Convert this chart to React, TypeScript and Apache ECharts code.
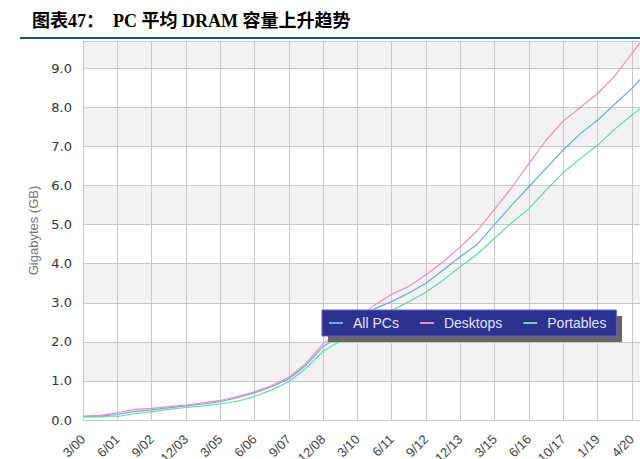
import React, { useEffect, useRef } from "react";
import * as echarts from "echarts";

const tickLabels = ["3/00", "6/01", "9/02", "12/03", "3/05", "6/06", "9/07", "12/08", "3/10", "6/11", "9/12", "12/13", "3/15", "6/16", "10/17", "1/19", "4/20"];
const samplePos = [0, 0.5, 1, 1.5, 2, 2.5, 3, 3.5, 4, 4.5, 5, 5.5, 6, 6.5, 7, 7.5, 8, 8.5, 9, 9.5, 10, 10.5, 11, 11.5, 12, 12.5, 13, 13.5, 14, 14.5, 15, 15.5, 16, 16.24];
const allPCs = [0.09, 0.1, 0.14, 0.22, 0.26, 0.31, 0.36, 0.41, 0.47, 0.57, 0.69, 0.85, 1.05, 1.4, 1.88, 2.15, 2.5, 2.85, 3.03, 3.25, 3.5, 3.84, 4.18, 4.5, 5.0, 5.5, 5.97, 6.44, 6.91, 7.33, 7.67, 8.08, 8.48, 8.72];
const desktops = [0.1, 0.12, 0.18, 0.27, 0.3, 0.34, 0.38, 0.44, 0.5, 0.6, 0.72, 0.88, 1.09, 1.45, 1.95, 2.25, 2.6, 2.94, 3.22, 3.42, 3.72, 4.05, 4.43, 4.85, 5.4, 5.95, 6.56, 7.16, 7.65, 8.0, 8.35, 8.8, 9.38, 9.65];
const portables = [0.08, 0.08, 0.09, 0.16, 0.21, 0.27, 0.32, 0.36, 0.41, 0.48, 0.6, 0.77, 0.98, 1.32, 1.76, 2.02, 2.3, 2.6, 2.8, 3.03, 3.27, 3.58, 3.92, 4.25, 4.65, 5.05, 5.41, 5.88, 6.33, 6.69, 7.03, 7.44, 7.8, 7.97];

const seriesNames = ["All PCs", "Desktops", "Portables"];
const seriesColors = ["#6aa7ec", "#f28bb5", "#62dca0"];

export default function App() {
  const ref = useRef<HTMLDivElement>(null);
  useEffect(() => {
    document.body.style.margin = "0";
    const chart = echarts.init(ref.current!, null, { renderer: "svg" });
    const pair = (vals: number[]) => vals.map((v, i) => [samplePos[i], v]);
    const datasets = [allPCs, desktops, portables];
    chart.setOption({
      animation: false,
      grid: { left: 83, right: 0, top: 41, bottom: 39, containLabel: false, outerBoundsMode: "none" },
      xAxis: {
        type: "value",
        min: 0,
        max: 16.24,
        interval: 1,
        axisLine: { show: true, lineStyle: { color: "#c8c8c8" } },
        axisTick: { show: false },
        splitLine: { show: true, lineStyle: { color: "#c8c8c8", width: 1 } },
        axisLabel: {
          rotate: 45,
          margin: 17,
          color: "#444",
          fontSize: 13,
          fontFamily: "'Liberation Sans', Arial, sans-serif",
          showMaxLabel: false,
          formatter: (v: number) => (Number.isInteger(v) && tickLabels[v] ? tickLabels[v] : ""),
        },
      },
      yAxis: {
        type: "value",
        min: 0,
        max: 9.7,
        interval: 1,
        name: "Gigabytes (GB)",
        nameLocation: "middle",
        nameGap: 33,
        nameTextStyle: { color: "#777", fontSize: 13, fontFamily: "'Liberation Sans', Arial, sans-serif" },
        axisLine: { show: false },
        axisTick: { show: false },
        splitLine: { show: true, lineStyle: { color: "#c8c8c8", width: 1 } },
        splitArea: { show: true, areaStyle: { color: ["#ffffff", "#f2f2f2"] } },
        axisLabel: {
          margin: 11,
          color: "#333",
          fontSize: 13,
          fontFamily: "'DejaVu Sans', Verdana, sans-serif",
          showMaxLabel: false,
          formatter: (v: number) => v.toFixed(1),
        },
      },
      legend: {
        left: 322,
        top: 310,
        z: 10,
        data: seriesNames,
        icon: "rect",
        itemWidth: 14,
        itemHeight: 2,
        itemGap: 21,
        padding: [6, 10, 6, 7],
        backgroundColor: "#2d3190",
        borderColor: "#5b62c9",
        borderWidth: 1,
        textStyle: { color: "#e0e2ff", fontSize: 14, fontFamily: "'Liberation Sans', Arial, sans-serif", padding: [0, 0, 0, 5] },
      },
      graphic: [
        { type: "rect", z: 5, shape: { x: 328, y: 316, width: 294, height: 26 }, style: { fill: "#666666" } },
        { type: "rect", z: 5, shape: { x: 20, y: 37, width: 620, height: 2 }, style: { fill: "#1f4e79" } },
        {
          type: "text", z: 5, x: 32, y: 12,
          style: { text: "图表47：", fill: "#000", font: "bold 18px 'Liberation Serif', 'Noto Sans CJK SC', serif" },
        },
        {
          type: "text", z: 5, x: 113, y: 12,
          style: { text: "PC 平均 DRAM 容量上升趋势", fill: "#000", font: "bold 18px 'Liberation Serif', 'Noto Sans CJK SC', serif" },
        },
      ],
      series: seriesNames.map((name, k) => ({
        name,
        type: "line",
        data: pair(datasets[k]),
        showSymbol: false,
        symbol: "none",
        lineStyle: { color: seriesColors[k], width: 1.2 },
        itemStyle: { color: seriesColors[k] },
        z: 2,
      })),
    });
    return () => chart.dispose();
  }, []);
  return <div ref={ref} style={{ width: 640, height: 459 }} />;
}
